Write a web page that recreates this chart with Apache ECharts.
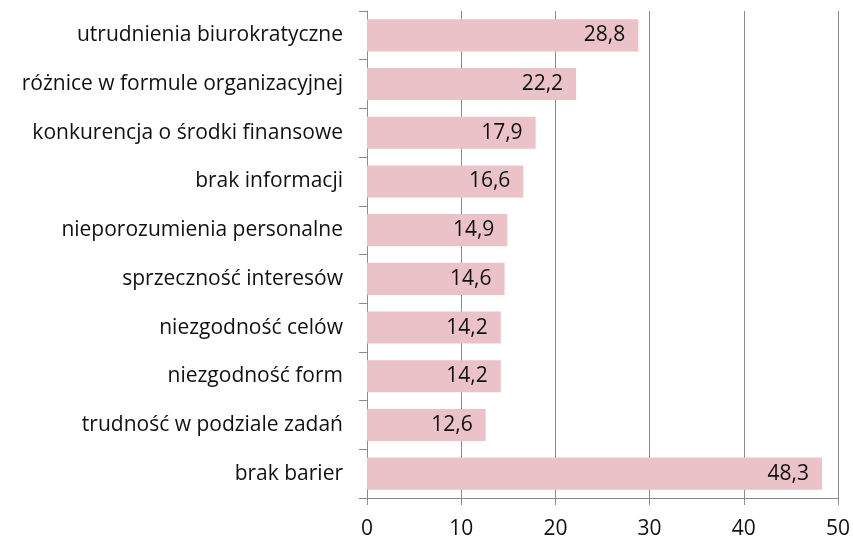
<!DOCTYPE html>
<html>
<head>
<meta charset="utf-8">
<script src="https://cdn.jsdelivr.net/npm/echarts@6/dist/echarts.min.js"></script>
<style>
  html, body {margin:0;padding:0;background:#fff;}
  #chart {width:853px;height:541px;}
</style>
</head>
<body>
<div id="chart"></div>
<script>
// bariery współpracy (%), od góry do dołu
var categories = [
  'utrudnienia biurokratyczne',
  'różnice w formule organizacyjnej',
  'konkurencja o środki finansowe',
  'brak informacji',
  'nieporozumienia personalne',
  'sprzeczność interesów',
  'niezgodność celów',
  'niezgodność form',
  'trudność w podziale zadań',
  'brak barier'
];
var values = [28.8, 22.2, 17.9, 16.6, 14.9, 14.6, 14.2, 14.2, 12.6, 48.3];
var xTicks = [0, 10, 20, 30, 40, 50];

var font = '"Open Sans", "Noto Sans", sans-serif';
var myChart = echarts.init(document.getElementById('chart'));
var option = {
  animation: false,
  grid: {
    top: 11,
    left: 367,
    right: 14,
    bottom: 43,
    containLabel: false
  },
  xAxis: {
    type: 'value',
    min: xTicks[0],
    max: xTicks[xTicks.length - 1],
    interval: 10,
    axisLine: {show: true, lineStyle: {color: '#8c8c8c', width: 1}},
    axisTick: {show: true, length: 7, lineStyle: {color: '#8c8c8c'}},
    axisLabel: {
      color: '#111', fontFamily: font, fontSize: 21, margin: 21,
      formatter: function (v) { return String(v); }
    },
    splitLine: {show: true, lineStyle: {color: '#8c8c8c', width: 1}}
  },
  yAxis: {
    type: 'category',
    inverse: true,
    data: categories,
    axisLine: {show: true, lineStyle: {color: '#8c8c8c', width: 1}},
    axisTick: {show: true, length: 8, lineStyle: {color: '#8c8c8c'}},
    axisLabel: {color: '#111', fontFamily: font, fontSize: 21, margin: 24}
  },
  series: [
    {
      type: 'bar',
      data: values,
      barCategoryGap: '34%',
      itemStyle: {color: '#EBC2C8'},
      label: {
        show: true,
        position: 'insideRight',
        distance: 13,
        color: '#111',
        fontFamily: font,
        fontSize: 21,
        formatter: function (p) { return p.value.toFixed(1).replace('.', ','); }
      }
    }
  ]
};
myChart.setOption(option);
</script>
</body>
</html>
